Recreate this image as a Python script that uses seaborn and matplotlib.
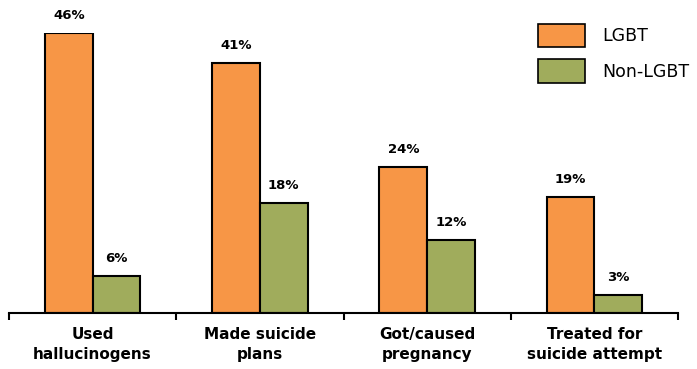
import pandas as pd
import numpy as np
import matplotlib
matplotlib.use("Agg")
import matplotlib.pyplot as plt
import seaborn as sns
from matplotlib.patches import Patch

categories = ["Used\nhallucinogens", "Made suicide\nplans", "Got/caused\npregnancy", "Treated for\nsuicide attempt"]
lgbt = [46, 41, 24, 19]
non_lgbt = [6, 18, 12, 3]
groups = ["LGBT", "Non-LGBT"]
colors = ["#F79646", "#A0AC5C"]

df = pd.DataFrame({
    "category": categories * 2,
    "group": [groups[0]] * 4 + [groups[1]] * 4,
    "value": lgbt + non_lgbt,
})

sns.set_style("white")
plt.rcParams["font.family"] = ["DejaVu Sans"]
plt.rcParams["text.color"] = "black"
plt.rcParams["xtick.color"] = "black"
plt.rcParams["xtick.labelcolor"] = "black"

fig = plt.figure(figsize=(6.97, 3.69), dpi=100)
ax = fig.add_axes([9 / 697, (369 - 313) / 369, (678 - 9) / 697, 280 / 369])

sns.barplot(data=df, x="category", y="value", hue="group", palette=colors,
            saturation=1, width=0.57, edgecolor="black", linewidth=1.5, ax=ax, legend=False)

ax.set_xlim(-0.5, 3.5)
ax.set_ylim(0, 46)

# value labels above bars
for cont in ax.containers:
    ax.bar_label(cont, labels=[f"{v:.0f}%" for v in cont.datavalues], padding=8,
                 fontsize=9.5, fontweight="bold", color="black", clip_on=False)

for s in ["top", "right", "left"]:
    ax.spines[s].set_visible(False)
ax.spines["bottom"].set_linewidth(1.5)
ax.spines["bottom"].set_color("black")

ax.set_yticks([])
ax.set_xlabel("")
ax.set_ylabel("")
ax.set_xticks(np.arange(-0.5, 4.0, 1.0), minor=True)
ax.tick_params(axis="x", which="minor", bottom=True, length=5, width=1.5, color="black", direction="out")
ax.tick_params(axis="x", which="major", bottom=True, length=0, pad=10)
for lab in ax.get_xticklabels():
    lab.set_fontsize(11)
    lab.set_fontweight("bold")
    lab.set_color("black")
    lab.set_linespacing(1.45)

handles = [Patch(facecolor=c, edgecolor="black", linewidth=1.2) for c in colors]
fig.legend(handles, groups, loc="upper left", bbox_to_anchor=(522 / 697, 1 - 8 / 369),
           frameon=False, fontsize=12.5, handlelength=2.7, handleheight=1.7,
           labelspacing=0.7, handletextpad=1.0, labelcolor="black")

fig.savefig("out.png", dpi=100)
